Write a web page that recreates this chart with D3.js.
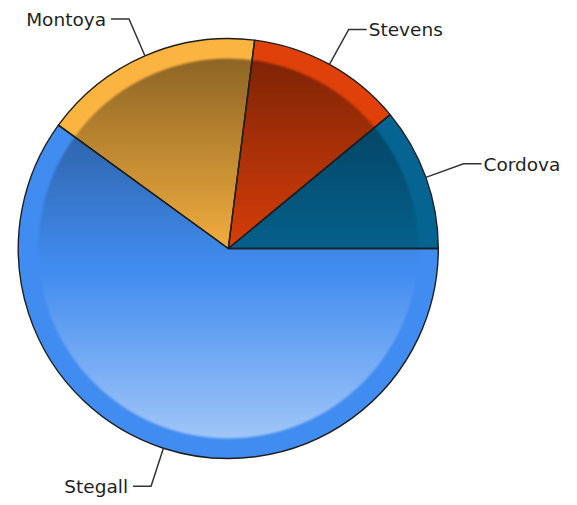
<!DOCTYPE html>
<html>
<head>
<meta charset="utf-8">
<script src="https://cdn.jsdelivr.net/npm/d3@7"></script>
<style>
  html, body { margin: 0; padding: 0; background: #fff; }
  svg { display: block; }
</style>
</head>
<body>
<svg id="chart" width="577" height="505"></svg>
<script>
const names  = ["Stegall", "Montoya", "Stevens", "Cordova"];
const values = [60, 17, 12, 11];
const colors = ["#418CF0", "#FCB441", "#E0400A", "#056492"];

const W = 577, H = 505;
const cx = 228.3, cy = 248.5, R = 210, Rin = 190;

const svg = d3.select("#chart");
const data = names.map((n, i) => ({ name: n, value: values[i], color: colors[i] }));

const pie = d3.pie().sort(null).value(d => d.value)
  .startAngle(Math.PI / 2).endAngle(Math.PI / 2 + 2 * Math.PI);
const arcs = pie(data);

const arc = d3.arc().innerRadius(0).outerRadius(R);

const defs = svg.append("defs");
const grad = defs.append("linearGradient")
  .attr("id", "shade").attr("gradientUnits", "userSpaceOnUse")
  .attr("x1", 0).attr("y1", -Rin).attr("x2", 0).attr("y2", Rin);
grad.append("stop").attr("offset", 0).attr("stop-color", "#000").attr("stop-opacity", 0.44);
grad.append("stop").attr("offset", 0.55).attr("stop-color", "#000").attr("stop-opacity", 0);
grad.append("stop").attr("offset", 0.56).attr("stop-color", "#fff").attr("stop-opacity", 0);
grad.append("stop").attr("offset", 1).attr("stop-color", "#fff").attr("stop-opacity", 0.5);

const blur = defs.append("filter").attr("id", "soft")
  .attr("x", "-5%").attr("y", "-5%").attr("width", "110%").attr("height", "110%");
blur.append("feGaussianBlur").attr("stdDeviation", 1.2);

const g = svg.append("g").attr("transform", `translate(${cx},${cy})`);

g.selectAll("path.base").data(arcs).join("path")
  .attr("class", "base")
  .attr("d", arc)
  .attr("fill", d => d.data.color);

g.append("circle").attr("r", Rin)
  .attr("fill", "url(#shade)")
  .attr("filter", "url(#soft)");

g.selectAll("path.edge").data(arcs).join("path")
  .attr("class", "edge")
  .attr("d", arc)
  .attr("fill", "none")
  .attr("stroke", "#1e1e1e")
  .attr("stroke-width", 1.4)
  .attr("stroke-linejoin", "round");

// labels with leader lines
const lead = 40, hor = 18;
arcs.forEach(d => {
  const a = (d.startAngle + d.endAngle) / 2;
  const ux = Math.sin(a), uy = -Math.cos(a);
  const x0 = ux * R, y0 = uy * R;
  const x1 = ux * (R + lead), y1 = uy * (R + lead);
  const dir = ux >= 0 ? 1 : -1;
  const x2 = x1 + dir * hor;
  g.append("polyline")
    .attr("points", `${x0},${y0} ${x1},${y1} ${x2},${y1}`)
    .attr("fill", "none")
    .attr("stroke", "#333")
    .attr("stroke-width", 1.5);
  g.append("text")
    .attr("x", x2 + (dir > 0 ? 2 : -5))
    .attr("y", y1 + 7)
    .attr("text-anchor", dir > 0 ? "start" : "end")
    .attr("font-family", "DejaVu Sans, sans-serif")
    .attr("font-size", 18.5)
    .attr("fill", "#1f1f1f")
    .text(d.data.name);
});
</script>
</body>
</html>
